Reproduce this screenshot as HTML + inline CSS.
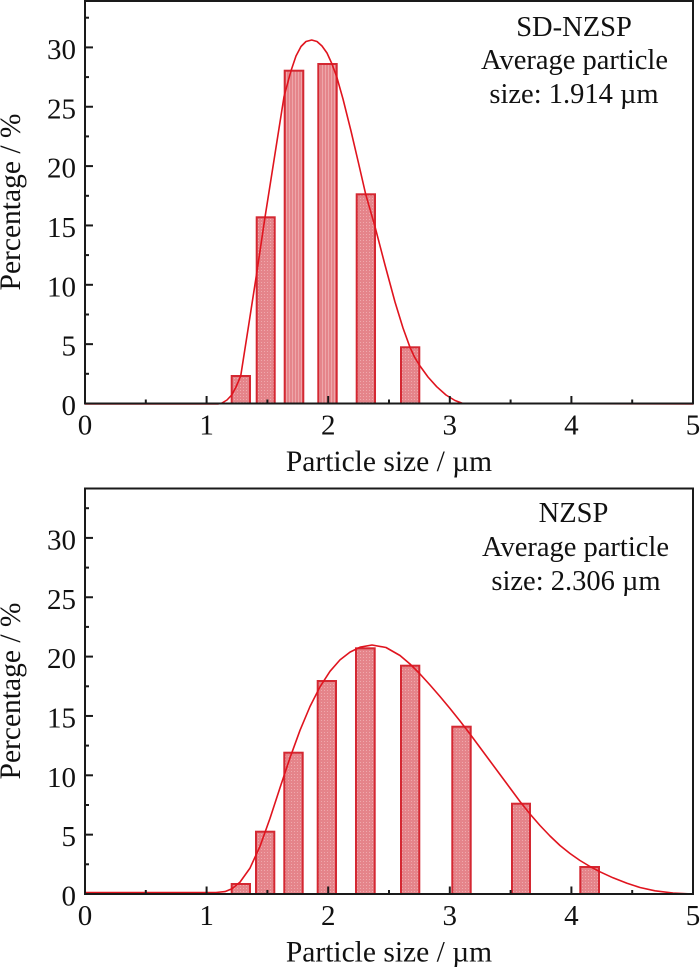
<!DOCTYPE html>
<html><head><meta charset="utf-8"><style>
html,body{margin:0;padding:0;background:#fff;}
svg{display:block;}
text{font-family:"Liberation Serif","DejaVu Serif",serif;fill:#111;}
</style></head><body>
<svg width="700" height="967" viewBox="0 0 700 967" xmlns="http://www.w3.org/2000/svg">
<defs>
<pattern id="pd" width="3" height="3" patternUnits="userSpaceOnUse">
<rect width="3" height="3" fill="#e5848a"/><rect x="0" y="0" width="1" height="1" fill="#efa9ad"/>
</pattern>
<pattern id="pv" width="3" height="3" patternUnits="userSpaceOnUse">
<rect width="3" height="3" fill="#e5848a"/><rect x="1" y="0" width="1" height="3" fill="#eea6aa"/>
</pattern>
</defs>

<!-- ============ TOP CHART ============ -->
<g stroke="#d42832" stroke-width="2">
<rect x="231.7" y="376" width="18.3" height="27.5" fill="url(#pd)"/>
<rect x="256.7" y="217.3" width="18" height="186.2" fill="url(#pd)"/>
<rect x="284.7" y="70.7" width="18.6" height="332.8" fill="url(#pv)"/>
<rect x="318.3" y="64" width="18.4" height="339.5" fill="url(#pv)"/>
<rect x="356.7" y="194.3" width="18.3" height="209.2" fill="url(#pd)"/>
<rect x="401" y="347.3" width="18.3" height="56.2" fill="url(#pd)"/>
</g>
<polyline fill="none" stroke="#e0141e" stroke-width="1.6" stroke-linejoin="round" points="85,404 218,404 222,403 227,400 231.7,395 236,387 240.7,376 248.7,325 256.7,273.3 265,217.3 274.5,157 284,96.7 291,70.7 296,56 301,46.5 306,41.5 311.7,40 317,41.5 322,46 327,53 331.7,63.3 336.7,76.7 343,99 351,131 358.5,163 365.7,194.3 375,226.7 385,265 395,302 403,328 410,347.3 414.5,357 419.3,365 428,377 436.7,386.7 446,395 455,400.5 463,403.5 693,404"/>

<g stroke="#1a1a1a" stroke-width="2" fill="none">
<rect x="85" y="1" width="608" height="402.5"/>
</g>
<g stroke="#1a1a1a" stroke-width="2">
<line x1="206.6" y1="403.5" x2="206.6" y2="396"/>
<line x1="328.2" y1="403.5" x2="328.2" y2="396"/>
<line x1="449.8" y1="403.5" x2="449.8" y2="396"/>
<line x1="571.4" y1="403.5" x2="571.4" y2="396"/>
<line x1="145.8" y1="403.5" x2="145.8" y2="399.5"/>
<line x1="267.4" y1="403.5" x2="267.4" y2="399.5"/>
<line x1="389" y1="403.5" x2="389" y2="399.5"/>
<line x1="510.6" y1="403.5" x2="510.6" y2="399.5"/>
<line x1="632.2" y1="403.5" x2="632.2" y2="399.5"/>
<line x1="85" y1="344.15" x2="93" y2="344.15"/>
<line x1="85" y1="284.8" x2="93" y2="284.8"/>
<line x1="85" y1="225.45" x2="93" y2="225.45"/>
<line x1="85" y1="166.1" x2="93" y2="166.1"/>
<line x1="85" y1="106.75" x2="93" y2="106.75"/>
<line x1="85" y1="47.4" x2="93" y2="47.4"/>
<line x1="85" y1="373.8" x2="89" y2="373.8"/>
<line x1="85" y1="314.5" x2="89" y2="314.5"/>
<line x1="85" y1="255.1" x2="89" y2="255.1"/>
<line x1="85" y1="195.8" x2="89" y2="195.8"/>
<line x1="85" y1="136.4" x2="89" y2="136.4"/>
<line x1="85" y1="77.1" x2="89" y2="77.1"/>
<line x1="85" y1="17.7" x2="89" y2="17.7"/>
</g>
<g font-size="29" text-anchor="end">
<text x="76" y="415">0</text>
<text x="76" y="355.7">5</text>
<text x="76" y="296.3">10</text>
<text x="76" y="237">15</text>
<text x="76" y="177.6">20</text>
<text x="76" y="118.3">25</text>
<text x="76" y="59">30</text>
</g>
<g font-size="29" text-anchor="middle">
<text x="85" y="434.5">0</text>
<text x="206.6" y="434.5">1</text>
<text x="328.2" y="434.5">2</text>
<text x="449.8" y="434.5">3</text>
<text x="571.4" y="434.5">4</text>
<text x="693" y="434.5">5</text>
</g>
<text x="389" y="471" font-size="29.5" text-anchor="middle">Particle size / µm</text>
<text transform="translate(20,202) rotate(-90)" font-size="29.5" text-anchor="middle">Percentage / %</text>
<g font-size="28.5" text-anchor="middle">
<text x="574" y="36">SD-NZSP</text>
<text x="574.5" y="69">Average particle</text>
<text x="574" y="103">size: 1.914 µm</text>
</g>

<!-- ============ BOTTOM CHART ============ -->
<g stroke="#d42832" stroke-width="2">
<rect x="231.7" y="884" width="18.3" height="10" fill="url(#pd)"/>
<rect x="256" y="831.7" width="18.3" height="62.3" fill="url(#pd)"/>
<rect x="284.3" y="752.7" width="18.4" height="141.3" fill="url(#pd)"/>
<rect x="317.7" y="681" width="18.3" height="213" fill="url(#pd)"/>
<rect x="356" y="648.3" width="18.7" height="245.7" fill="url(#pd)"/>
<rect x="401" y="665.7" width="18.3" height="228.3" fill="url(#pd)"/>
<rect x="452.3" y="726.7" width="18.4" height="167.3" fill="url(#pd)"/>
<rect x="512" y="803.7" width="18" height="90.3" fill="url(#pd)"/>
<rect x="580.3" y="867" width="18.7" height="27" fill="url(#pd)"/>
</g>
<polyline fill="none" stroke="#e0141e" stroke-width="1.6" stroke-linejoin="round" points="85,892.5 216,892.5 225,891.6 232,888.7 240,882.1 250,868.1 260,846.3 270,818.4 280,787.8 290,757.8 300,730.3 310,706.5 320,686.8 330,671.3 340,659.9 350,652.1 360,647.2 372,645 386,647.5 400,655.5 410,664 420,674 430,685 440,696.5 450,708.5 460,721 470,734 480,747.5 490,761 500,774.5 510,788 520,801.5 530,814 540,825.5 550,836 560,845.5 570,853.5 580,860.5 590,866.5 600,871.8 613,877.8 627,883.3 640,887.5 655,890.8 673,893 693,894"/>

<g stroke="#1a1a1a" stroke-width="2" fill="none">
<rect x="85" y="488.5" width="608" height="405.5"/>
</g>
<g stroke="#1a1a1a" stroke-width="2">
<line x1="206.6" y1="894" x2="206.6" y2="886.5"/>
<line x1="328.2" y1="894" x2="328.2" y2="886.5"/>
<line x1="449.8" y1="894" x2="449.8" y2="886.5"/>
<line x1="571.4" y1="894" x2="571.4" y2="886.5"/>
<line x1="145.8" y1="894" x2="145.8" y2="890"/>
<line x1="267.4" y1="894" x2="267.4" y2="890"/>
<line x1="389" y1="894" x2="389" y2="890"/>
<line x1="510.6" y1="894" x2="510.6" y2="890"/>
<line x1="632.2" y1="894" x2="632.2" y2="890"/>
<line x1="85" y1="834.65" x2="93" y2="834.65"/>
<line x1="85" y1="775.3" x2="93" y2="775.3"/>
<line x1="85" y1="715.95" x2="93" y2="715.95"/>
<line x1="85" y1="656.6" x2="93" y2="656.6"/>
<line x1="85" y1="597.25" x2="93" y2="597.25"/>
<line x1="85" y1="537.9" x2="93" y2="537.9"/>
<line x1="85" y1="864.3" x2="89" y2="864.3"/>
<line x1="85" y1="805" x2="89" y2="805"/>
<line x1="85" y1="745.6" x2="89" y2="745.6"/>
<line x1="85" y1="686.3" x2="89" y2="686.3"/>
<line x1="85" y1="626.9" x2="89" y2="626.9"/>
<line x1="85" y1="567.6" x2="89" y2="567.6"/>
<line x1="85" y1="508.2" x2="89" y2="508.2"/>
</g>
<g font-size="29" text-anchor="end">
<text x="76" y="905.5">0</text>
<text x="76" y="846.2">5</text>
<text x="76" y="786.8">10</text>
<text x="76" y="727.5">15</text>
<text x="76" y="668.1">20</text>
<text x="76" y="608.8">25</text>
<text x="76" y="549.4">30</text>
</g>
<g font-size="29" text-anchor="middle">
<text x="85" y="925">0</text>
<text x="206.6" y="925">1</text>
<text x="328.2" y="925">2</text>
<text x="449.8" y="925">3</text>
<text x="571.4" y="925">4</text>
<text x="693" y="925">5</text>
</g>
<text x="389" y="961.5" font-size="29.5" text-anchor="middle">Particle size / µm</text>
<text transform="translate(20,691) rotate(-90)" font-size="29.5" text-anchor="middle">Percentage / %</text>
<g font-size="28.5" text-anchor="middle">
<text x="573.5" y="522">NZSP</text>
<text x="575.5" y="556">Average particle</text>
<text x="576" y="590">size: 2.306 µm</text>
</g>
</svg>
</body></html>
